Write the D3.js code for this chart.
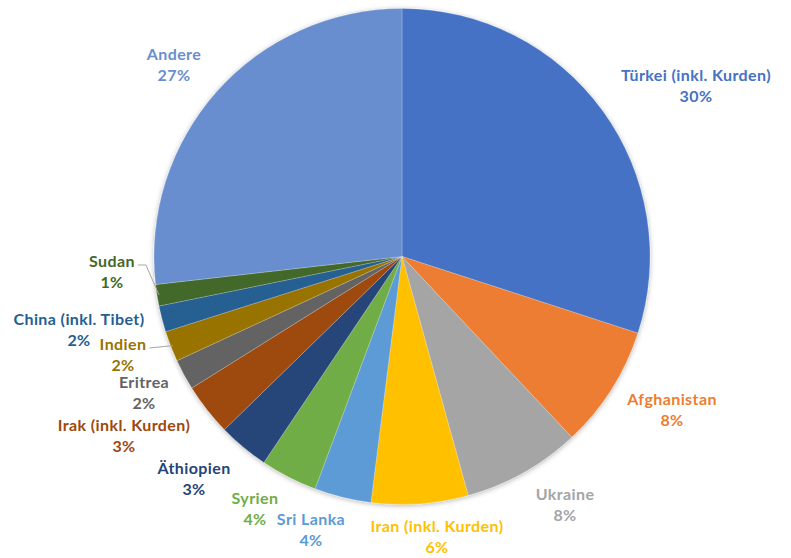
<!DOCTYPE html>
<html>
<head>
<meta charset="utf-8">
<script src="https://cdn.jsdelivr.net/npm/d3@7"></script>
<style>
  body { margin: 0; background: #fff; }
  text { font-family: Lato, "Open Sans", sans-serif; font-weight: bold; letter-spacing: 0.4px; }
</style>
</head>
<body>
<div id="canvas"></div>
<script>
"use strict"

let svgWidth = 791
let svgHeight = 558

/* Data */
let countries = ["Türkei (inkl. Kurden)", "Afghanistan", "Ukraine", "Iran (inkl. Kurden)", "Sri Lanka",
  "Syrien", "Äthiopien", "Irak (inkl. Kurden)", "Eritrea", "Indien", "China (inkl. Tibet)", "Sudan", "Andere"]
let shares = [30.0, 8.0, 7.7, 6.3, 3.7, 3.7, 3.3, 3.4, 2.0, 2.0, 1.7, 1.4, 26.8]
let colors = ["#4472C4", "#ED7D31", "#A5A5A5", "#FFC000", "#5B9BD5", "#70AD47", "#264478",
  "#9E480E", "#636363", "#997300", "#255E91", "#43682B", "#698ED0"]

/* label placement (x center, baseline of first line) */
let labelPos = [[696, 81], [672, 405], [565, 500], [437, 532], [311, 525], [255, 504], [194, 474],
  [124, 431], [144, 388], [123, 350], [79, 325], [112, 267], [174, 60]]
let leaderIdx = [9, 11]   // Indien, Sudan have connector lines

let cx = 402
let cy = 256.5
let radius = 248

let svg = d3.select("#canvas")
  .append("svg")
  .attr("width", svgWidth)
  .attr("height", svgHeight)

/* soft shadow like the office default */
let defs = svg.append("defs")
let filter = defs.append("filter")
  .attr("id", "shadow")
  .attr("x", "-10%").attr("y", "-10%")
  .attr("width", "120%").attr("height", "120%")
filter.append("feDropShadow")
  .attr("dx", 0).attr("dy", 1)
  .attr("stdDeviation", 2.5)
  .attr("flood-color", "#000")
  .attr("flood-opacity", 0.3)

let total = d3.sum(shares)
let pie = d3.pie().sort(null).value(d => d)
let arcs = pie(shares)

let arc = d3.arc().innerRadius(0).outerRadius(radius)
let edgeArc = d3.arc().innerRadius(radius - 2).outerRadius(radius - 2)

let g = svg.append("g")
  .attr("transform", "translate(" + cx + "," + cy + ")")

g.append("g")
  .attr("filter", "url(#shadow)")
  .selectAll("path")
  .data(arcs)
  .join("path")
  .attr("d", arc)
  .attr("fill", (d, i) => colors[i])
  .attr("stroke", "#fff")
  .attr("stroke-opacity", 0.35)
  .attr("stroke-width", 0.6)

/* labels */
let labels = svg.append("g")
  .selectAll("text")
  .data(arcs)
  .join("text")
  .attr("text-anchor", "middle")
  .attr("font-size", "16px")
  .attr("fill", (d, i) => colors[i])

labels.append("tspan")
  .attr("x", (d, i) => labelPos[i][0])
  .attr("y", (d, i) => labelPos[i][1])
  .text((d, i) => countries[i])

labels.append("tspan")
  .attr("x", (d, i) => labelPos[i][0])
  .attr("y", (d, i) => labelPos[i][1] + 21)
  .text(d => Math.round(d.value / total * 100) + "%")

/* connector lines */
let firstLines = labels.select("tspan").nodes()
leaderIdx.forEach(function(i) {
  let p = edgeArc.centroid(arcs[i])
  let ex = cx + p[0]
  let ey = cy + p[1]
  let textW = firstLines[i].getComputedTextLength()
  let sx = labelPos[i][0] + textW / 2 + 3
  let sy = labelPos[i][1] - 2
  let pts
  if (i === 11) {
    pts = [[sx, sy], [sx + 8, sy], [ex, ey]]
  } else {
    pts = [[sx, sy], [ex, ey]]
  }
  svg.append("path")
    .attr("d", d3.line()(pts))
    .attr("fill", "none")
    .attr("stroke", "#A6A6A6")
    .attr("stroke-width", 1)
})
</script>
</body>
</html>
